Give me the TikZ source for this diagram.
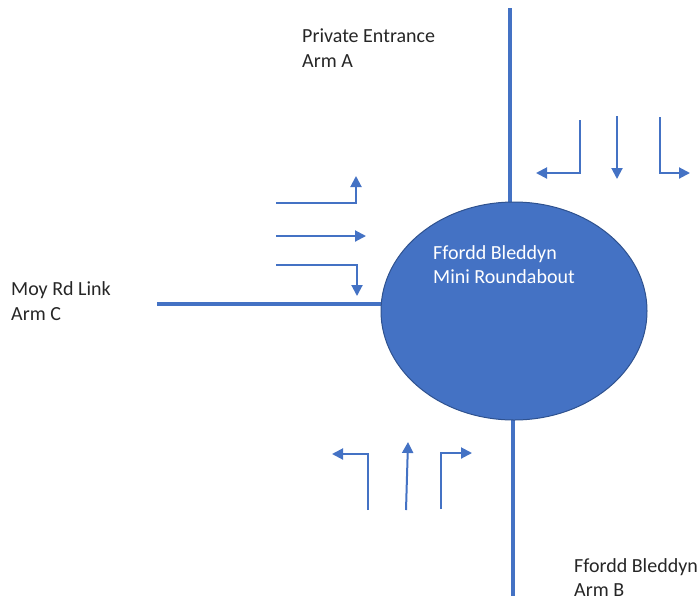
\documentclass[tikz,border=0pt]{standalone}
\usepackage{fontspec}
\setmainfont{Carlito}
\usetikzlibrary{arrows.meta,shapes.geometric}
\definecolor{rbblue}{HTML}{4472C4}
\definecolor{rbedge}{HTML}{2F528F}
\definecolor{txt}{HTML}{262626}
\begin{document}
\begin{tikzpicture}[x=1pt,y=-1pt,
  road/.style={draw=rbblue,line width=4pt},
  mv/.style={draw=rbblue,line width=2pt,-{Triangle[length=11pt,width=11pt]}},
  lbl/.style={anchor=base west,inner sep=0pt,text=txt,font=\fontsize{20}{25}\selectfont},
  wlbl/.style={lbl,text=white}]
\useasboundingbox (0,0) rectangle (700,600);
% roads
\coordinate (aT) at (510,8);
\coordinate (aB) at (510,215);
\coordinate (bT) at (513,410);
\coordinate (bB) at (513,596);
\coordinate (cL) at (157,304);
\coordinate (cR) at (390,304);
\draw[road] (aT) -- (aB);
\draw[road] (bT) -- (bB);
\draw[road] (cL) -- (cR);
% roundabout
\node[ellipse,fill=rbblue,draw=rbedge,line width=1pt,minimum width=266pt,minimum height=218pt,inner sep=0pt] (rb) at (514,311) {};
\node[wlbl] (rb1) at (433,259) {Ffordd Bleddyn};
\node[wlbl] (rb2) at (433,283) {Mini Roundabout};
% labels
\node[lbl] (a1) at (302,42) {Private Entrance};
\node[lbl] (a2) at (302,67) {Arm A};
\node[lbl] (c1) at (11,295) {Moy Rd Link};
\node[lbl] (c2) at (11,320) {Arm C};
\node[lbl] (b1) at (574,572) {Ffordd Bleddyn};
\node[lbl] (b2) at (574,596) {Arm B};
% west approach movements
\coordinate (w1s) at (276,203); \coordinate (w1c) at (356,203); \coordinate (w1e) at (356,176);
\coordinate (w2s) at (276,236); \coordinate (w2e) at (366,236);
\coordinate (w3s) at (276,265); \coordinate (w3c) at (357,265); \coordinate (w3e) at (357,296);
\draw[mv] (w1s) -- (w1c) -- (w1e);
\draw[mv] (w2s) -- (w2e);
\draw[mv] (w3s) -- (w3c) -- (w3e);
% north approach movements
\coordinate (n1s) at (580,120); \coordinate (n1c) at (580,173); \coordinate (n1e) at (536,173);
\coordinate (n2s) at (617,116); \coordinate (n2e) at (617,179);
\coordinate (n3s) at (660,117); \coordinate (n3c) at (660,173); \coordinate (n3e) at (690,173);
\draw[mv] (n1s) -- (n1c) -- (n1e);
\draw[mv] (n2s) -- (n2e);
\draw[mv] (n3s) -- (n3c) -- (n3e);
% south approach movements
\coordinate (s1s) at (368,510); \coordinate (s1c) at (368,454); \coordinate (s1e) at (332,454);
\coordinate (s2s) at (406,510); \coordinate (s2e) at (408,442);
\coordinate (s3s) at (441,509); \coordinate (s3c) at (441,453); \coordinate (s3e) at (472,453);
\draw[mv] (s1s) -- (s1c) -- (s1e);
\draw[mv] (s2s) -- (s2e);
\draw[mv] (s3s) -- (s3c) -- (s3e);
\end{tikzpicture}
\end{document}
